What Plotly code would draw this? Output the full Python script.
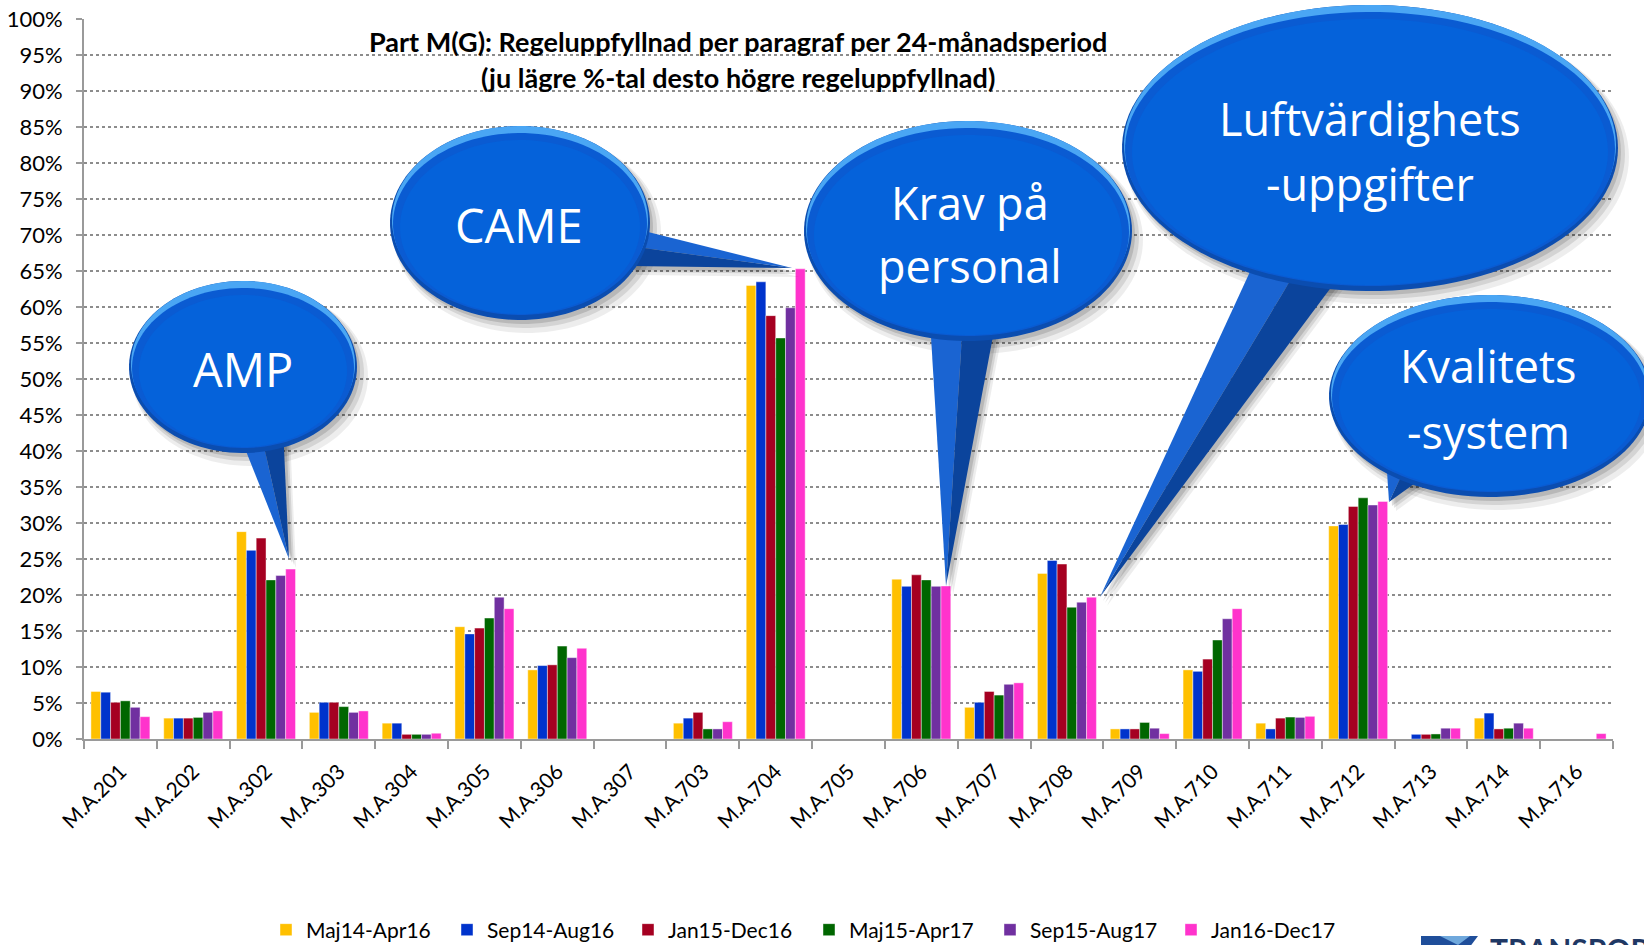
import numpy as np
import plotly.graph_objects as go

# ---------------- data ----------------
categories = ["M.A.201", "M.A.202", "M.A.302", "M.A.303", "M.A.304", "M.A.305", "M.A.306",
              "M.A.307", "M.A.703", "M.A.704", "M.A.705", "M.A.706", "M.A.707", "M.A.708",
              "M.A.709", "M.A.710", "M.A.711", "M.A.712", "M.A.713", "M.A.714", "M.A.716"]

maj14_apr16 = [6.6, 2.9, 28.8, 3.7, 2.2, 15.6, 9.6, None, 2.2, 63.0, None, 22.2, 4.4, 23.0, 1.4, 9.6, 2.2, 29.6, None, 2.9, None]
sep14_aug16 = [6.5, 2.9, 26.2, 5.1, 2.2, 14.6, 10.2, None, 2.9, 63.5, None, 21.2, 5.1, 24.8, 1.4, 9.4, 1.4, 29.8, 0.65, 3.6, None]
jan15_dec16 = [5.1, 2.9, 27.9, 5.1, 0.65, 15.4, 10.3, None, 3.7, 58.8, None, 22.8, 6.6, 24.3, 1.4, 11.1, 2.9, 32.3, 0.65, 1.4, None]
maj15_apr17 = [5.3, 3.0, 22.1, 4.5, 0.65, 16.8, 12.9, None, 1.4, 55.7, None, 22.1, 6.1, 18.3, 2.3, 13.75, 3.05, 33.5, 0.7, 1.5, None]
sep15_aug17 = [4.4, 3.7, 22.7, 3.7, 0.65, 19.7, 11.3, None, 1.4, 59.9, None, 21.2, 7.6, 19.0, 1.5, 16.7, 3.0, 32.5, 1.5, 2.2, None]
jan16_dec17 = [3.1, 3.9, 23.6, 3.9, 0.8, 18.1, 12.6, None, 2.4, 65.3, None, 21.25, 7.8, 19.7, 0.75, 18.1, 3.15, 33.0, 1.5, 1.5, 0.75]

series_names = ["Maj14-Apr16", "Sep14-Aug16", "Jan15-Dec16", "Maj15-Apr17", "Sep15-Aug17", "Jan16-Dec17"]
series_values = [maj14_apr16, sep14_aug16, jan15_dec16, maj15_apr17, sep15_aug17, jan16_dec17]
series_colors = ["#FFC000", "#0033CC", "#A50021", "#006600", "#7030A0", "#FF33CC"]

y_ticks = list(range(0, 101, 5))
y_ticklabels = [f"{v}%" for v in y_ticks]

title_line1 = "Part M(G): Regeluppfyllnad per paragraf per 24-månadsperiod"
title_line2 = "(ju lägre %-tal desto högre regeluppfyllnad)"

# ---------------- layout geometry (pixels) ----------------
FIG_W, FIG_H = 1644, 945
L, R, T, B = 84, 1613, 19, 739
PW, PH = R - L, B - T


def px(x):
    return (x - L) / PW


def py(y):
    return (B - y) / PH


fig = go.Figure()
for name, vals, col in zip(series_names, series_values, series_colors):
    fig.add_trace(go.Bar(
        x=categories, y=vals, name=name,
        marker=dict(color=col, line=dict(color="rgba(255,255,255,0.55)", width=0.8)),
    ))

shapes = []
annotations = []


def ell_pts(cx, cy, rx, ry, n=120, a0=0, a1=2 * np.pi):
    t = np.linspace(a0, a1, n)
    return list(zip(cx + rx * np.cos(t), cy + ry * np.sin(t)))


def path_from(pts, close=True):
    s = "M " + " L ".join(f"{px(x):.5f},{py(y):.5f}" for x, y in pts)
    return s + (" Z" if close else "")


def add_path(pts, fill, layer="above"):
    shapes.append(dict(type="path", xref="paper", yref="paper", path=path_from(pts),
                       fillcolor=fill, line=dict(width=0), layer=layer))


def bubble(cx, cy, rx, ry, b1, tip, b2):
    # soft shadow
    for off, grow, a in [((7, 9), 4, 0.07), ((5, 6), 2, 0.10), ((3, 4), 0, 0.13)]:
        add_path(ell_pts(cx + off[0], cy + off[1], rx + grow, ry + grow), f"rgba(0,0,0,{a})")
        add_path([(b1[0] + off[0], b1[1] + off[1]), (tip[0] + off[0], tip[1] + off[1]),
                  (b2[0] + off[0], b2[1] + off[1])], f"rgba(0,0,0,{a})")
    # tail, two tones
    mid = ((b1[0] + b2[0]) / 2, (b1[1] + b2[1]) / 2)
    add_path([b1, tip, mid], "#1A64D2")
    add_path([mid, tip, b2], "#0B449C")
    # body
    add_path(ell_pts(cx, cy, rx, ry), "#0B4DB0")
    add_path(ell_pts(cx, cy - 3, rx - 2, ry - 3), "#4AA6F4")
    add_path(ell_pts(cx, cy + 1, rx - 3, ry - 6), "#0A5BD2")
    add_path(ell_pts(cx, cy + 4, rx - 10, ry - 10), "#0562DA")


def bubble_text(text, x, y, size=46):
    annotations.append(dict(text=text, xref="paper", yref="paper", x=px(x), y=py(y),
                            xanchor="center", yanchor="middle", showarrow=False,
                            font=dict(family="Open Sans", size=size, color="white")))


# AMP
bubble(243, 367, 114, 86, (236, 426), (289, 559), (283, 426))
bubble_text("AMP", 243, 369, 47)
# CAME
bubble(520, 223, 130, 97, (620, 225), (792, 268), (630, 266))
bubble_text("CAME", 519, 225, 47)
# Krav på personal
bubble(968, 231, 164, 110, (930, 320), (946, 586), (996, 320))
bubble_text("Krav på", 970, 202, 45)
bubble_text("personal", 970, 265, 45)
# Luftvärdighets-uppgifter
bubble(1370, 148, 248, 143, (1260, 250), (1100, 597), (1350, 262))
bubble_text("Luftvärdighets", 1370, 119, 45)
bubble_text("-uppgifter", 1370, 184, 45)
# Kvalitets-system
bubble(1490, 396, 161, 101, (1385, 440), (1389, 502), (1440, 465))
bubble_text("Kvalitets", 1488, 366, 45)
bubble_text("-system", 1488, 431, 45)

# title
for line, yy in [(title_line1, 41), (title_line2, 77)]:
    annotations.append(dict(text=f"<b>{line}</b>", xref="paper", yref="paper",
                            x=px(738), y=py(yy), xanchor="center", yanchor="middle", showarrow=False,
                            font=dict(family="Lato", size=27, color="black")))

# partial logo at bottom right
add_path([(1421, 936), (1478, 936), (1466, 952), (1421, 952)], "#1F4E9A")
add_path([(1440, 936), (1470, 936), (1458, 945)], "#6FA8DC")
annotations.append(dict(text="<b>TRANSPORTSTYRELSEN</b>", xref="paper", yref="paper",
                        x=px(1488), y=py(929), xanchor="left", yanchor="top", showarrow=False,
                        font=dict(family="Lato", size=30, color="#1F3864")))

fig.update_layout(
    width=FIG_W, height=FIG_H,
    margin=dict(l=L, r=FIG_W - R, t=T, b=FIG_H - B, autoexpand=False),
    paper_bgcolor="white", plot_bgcolor="white",
    barmode="group", bargap=0.19, bargroupgap=0,
    showlegend=True,
    legend=dict(orientation="h", x=px(266), xanchor="left", y=py(930), yanchor="middle",
                font=dict(family="Lato", size=21, color="black"),
                entrywidth=136, entrywidthmode="pixels", itemwidth=30,
                bgcolor="rgba(0,0,0,0)", traceorder="normal"),
    shapes=shapes, annotations=annotations,
    font=dict(family="Lato", color="black"),
)
fig.update_xaxes(
    type="category", categoryorder="array", categoryarray=categories,
    showline=True, linecolor="#9A9A9A", linewidth=2,
    ticks="outside", tickson="boundaries", ticklen=8, tickwidth=2, tickcolor="#9A9A9A",
    tickangle=-45, tickfont=dict(family="Lato", size=21, color="black"),
    showgrid=False, zeroline=False, ticklabelstandoff=10,
)
fig.update_yaxes(
    range=[0, 100], tickvals=y_ticks, ticktext=y_ticklabels,
    showline=True, linecolor="#9A9A9A", linewidth=2,
    ticks="outside", ticklen=6, tickwidth=2, tickcolor="#9A9A9A",
    tickfont=dict(family="Lato", size=22, color="black"),
    showgrid=True, gridcolor="#8C8C8C", gridwidth=1.5, griddash="dot",
    zeroline=False, ticklabelstandoff=9,
)

fig.write_html("out.html", config={"displayModeBar": False},
               post_script="document.body.style.margin='0px';document.body.style.overflow='hidden';")
